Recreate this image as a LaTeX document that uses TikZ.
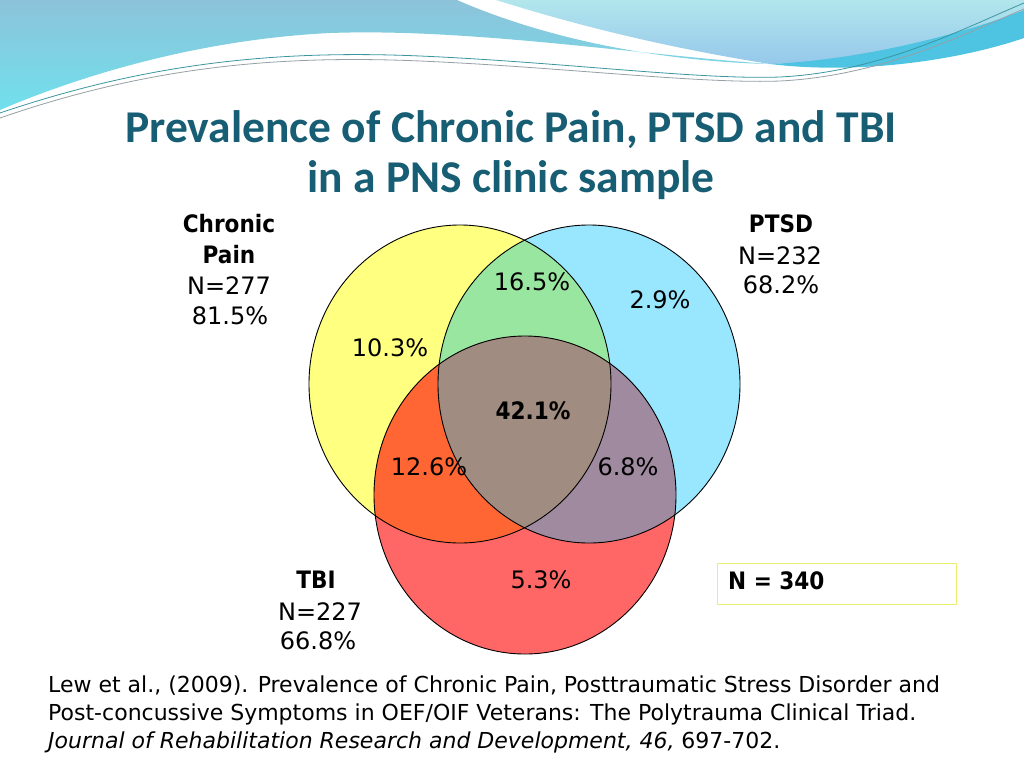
\documentclass[tikz,border=0pt]{standalone}
\usepackage{fontspec}
\setmainfont{DejaVu Sans}
\newfontfamily\titlefont{Carlito}
\newfontfamily\condfont{DejaVu Sans Condensed}
\definecolor{titleteal}{RGB}{23,94,117}
\definecolor{cy}{RGB}{255,255,128}
\definecolor{cb}{RGB}{153,230,255}
\definecolor{cr}{RGB}{255,102,102}
\definecolor{cg}{RGB}{153,230,160}
\definecolor{co}{RGB}{255,102,51}
\definecolor{cp}{RGB}{160,138,160}
\definecolor{cc}{RGB}{160,140,128}
\definecolor{boxyellow}{RGB}{238,238,110}
\definecolor{waveA}{RGB}{140,195,218}
\definecolor{waveB}{RGB}{112,224,236}
\definecolor{paleA}{RGB}{178,230,236}
\definecolor{paleB}{RGB}{150,200,235}
\definecolor{band}{RGB}{78,196,226}
\definecolor{lineteal}{RGB}{60,150,160}
\definecolor{linegrey}{RGB}{150,160,165}
\begin{document}
\begin{tikzpicture}[x=1pt,y=-1pt,
  ell/.style={x radius=151pt, y radius=159pt},
  lbl/.style={inner sep=0pt, font=\fontsize{24}{28}\selectfont},
  blbl/.style={inner sep=0pt, font=\condfont\bfseries\fontsize{24}{28}\selectfont},
  ttl/.style={inner sep=0pt, anchor=base, text=titleteal, font=\titlefont\bfseries\fontsize{45.5}{54}\selectfont},
  cite/.style={inner sep=0pt, anchor=base west, font=\fontsize{22}{26}\selectfont}]
\useasboundingbox (0,0) rectangle (1024,768);
\fill[white] (0,0) rectangle (1024,768);
% top decoration
\shade[top color=waveA, bottom color=waveB]
  (0,0) -- (457,0) .. controls (560,45) and (680,62) .. (770,64)
  .. controls (640,55) and (470,28) .. (330,33)
  .. controls (190,40) and (70,80) .. (0,110) -- cycle;
\shade[top color=paleA, bottom color=paleB]
  (496,0) -- (1024,0) -- (1024,10) .. controls (930,45) and (850,62) .. (770,64)
  .. controls (650,45) and (560,20) .. (496,0) -- cycle;
\fill[band] (770,64) .. controls (860,60) and (960,35) .. (1024,10) -- (1024,38)
  .. controls (960,60) and (860,75) .. (770,64) -- cycle;
\draw[lineteal, line width=0.8pt] (0,113) .. controls (150,62) and (280,50) .. (420,56)
  .. controls (560,62) and (700,80) .. (780,77) .. controls (880,72) and (960,30) .. (1024,3);
\draw[linegrey, line width=0.8pt] (0,118) .. controls (150,66) and (280,55) .. (420,61)
  .. controls (560,67) and (700,84) .. (780,81) .. controls (880,76) and (960,36) .. (1024,9);
% title
\node[ttl] (t1) at (511,142) {Prevalence of Chronic Pain, PTSD and TBI};
\node[ttl] (t2) at (511,192) {in a PNS clinic sample};
% venn
\coordinate (Yc) at (460,384);
\coordinate (Bc) at (589,384);
\coordinate (Rc) at (525,495);
\fill[cy] (Yc) ellipse [ell];
\fill[cb] (Bc) ellipse [ell];
\fill[cr] (Rc) ellipse [ell];
\begin{scope}\clip (Yc) ellipse [ell]; \fill[cg] (Bc) ellipse [ell]; \end{scope}
\begin{scope}\clip (Yc) ellipse [ell]; \fill[co] (Rc) ellipse [ell]; \end{scope}
\begin{scope}\clip (Bc) ellipse [ell]; \fill[cp] (Rc) ellipse [ell]; \end{scope}
\begin{scope}\clip (Yc) ellipse [ell]; \clip (Bc) ellipse [ell]; \fill[cc] (Rc) ellipse [ell]; \end{scope}
\draw[line width=0.9pt] (Yc) ellipse [ell];
\draw[line width=0.9pt] (Bc) ellipse [ell];
\draw[line width=0.9pt] (Rc) ellipse [ell];
% region labels
\node[lbl] (r165) at (532,282) {16.5\%};
\node[lbl] (r29) at (660,300) {2.9\%};
\node[lbl] (r103) at (390,348) {10.3\%};
\node[blbl] (r421) at (533,411) {42.1\%};
\node[lbl] (r126) at (429,467) {12.6\%};
\node[lbl] (r68) at (628,467) {6.8\%};
\node[lbl] (r53) at (541,580) {5.3\%};
% set labels
\node[blbl] (cp1) at (229,224) {Chronic};
\node[blbl] (cp2) at (229,255) {Pain};
\node[lbl] (cp3) at (229,286) {N=277};
\node[lbl] (cp4) at (230,316) {81.5\%};
\node[blbl] (pt1) at (781,224) {PTSD};
\node[lbl] (pt2) at (780,256) {N=232};
\node[lbl] (pt3) at (781,285) {68.2\%};
\node[blbl] (tb1) at (316,580) {TBI};
\node[lbl] (tb2) at (320,612) {N=227};
\node[lbl] (tb3) at (318,641) {66.8\%};
% N box
\node[draw=boxyellow, line width=1.2pt, minimum width=239pt, minimum height=41pt, anchor=north west, inner sep=0pt] (nbox) at (717,563) {};
\node[blbl, anchor=west] (ntext) at (728,581) {N = 340};
% citation
\node[cite] (c1) at (48,692) {Lew et al., (2009). Prevalence of Chronic Pain, Posttraumatic Stress Disorder and};
\node[cite] (c2) at (48,720) {Post-concussive Symptoms in OEF/OIF Veterans: The Polytrauma Clinical Triad.};
\node[cite] (c3) at (48,748) {\itshape Journal of Rehabilitation Research and Development, 46,\upshape{} 697-702.};
\end{tikzpicture}
\end{document}
